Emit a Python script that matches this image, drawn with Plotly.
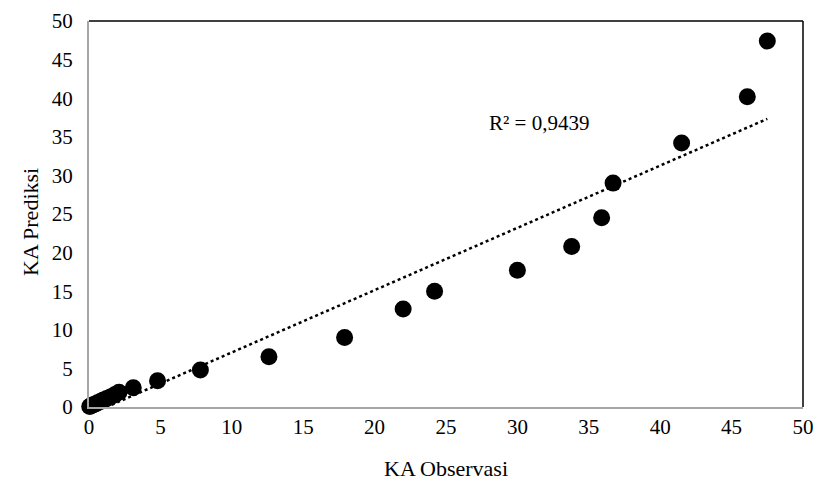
import numpy as np
import plotly.graph_objects as go

ka_observasi = [0.05, 0.15, 0.3, 0.45, 0.6, 0.8, 1.0, 1.25, 1.5, 1.8, 2.1, 3.1, 4.8, 7.8,
                12.6, 17.9, 22.0, 24.2, 30.0, 33.8, 35.9, 36.7, 41.5, 46.1, 47.5]
ka_prediksi = [0.05, 0.15, 0.3, 0.4, 0.55, 0.7, 0.9, 1.1, 1.3, 1.6, 1.9, 2.5, 3.4, 4.8,
               6.5, 9.0, 12.7, 15.0, 17.7, 20.8, 24.5, 29.0, 34.2, 40.2, 47.4]
r2_label = "R² = 0,9439"

x = np.array(ka_observasi)
y = np.array(ka_prediksi)
slope, intercept = np.polyfit(x, y, 1)
tx = np.array([x.min(), x.max()])
ty = slope * tx + intercept

font_family = "Liberation Serif, Times New Roman, serif"

fig = go.Figure()
fig.add_trace(go.Scatter(x=tx, y=ty, mode="lines",
                         line=dict(color="black", width=2.5, dash="dot"),
                         hoverinfo="skip", showlegend=False))
fig.add_trace(go.Scatter(x=x, y=y, mode="markers",
                         marker=dict(color="black", size=17),
                         showlegend=False, cliponaxis=False))

fig.add_annotation(x=31.5, y=36.8, text=r2_label, showarrow=False,
                   font=dict(family=font_family, size=21, color="black"))

# axis titles
fig.add_annotation(xref="paper", yref="paper", x=0.5, y=0, yshift=-61,
                   xanchor="center", yanchor="middle",
                   text="KA Observasi", showarrow=False,
                   font=dict(family=font_family, size=22, color="black"))
fig.add_annotation(xref="paper", yref="paper", x=0, y=0.5, xshift=-59, yshift=-8,
                   xanchor="center", yanchor="middle", textangle=-90,
                   text="KA Prediksi", showarrow=False,
                   font=dict(family=font_family, size=22, color="black"))

# top and right plot-area border
fig.add_shape(type="line", xref="paper", yref="paper", x0=0, x1=1, y0=1, y1=1,
              line=dict(color="black", width=1.5))
fig.add_shape(type="line", xref="paper", yref="paper", x0=1, x1=1, y0=0, y1=1,
              line=dict(color="black", width=1.5))

axis_common = dict(showgrid=False, zeroline=False, showline=True,
                   linecolor="#a6a6a6", linewidth=2, ticks="", automargin=False,
                   tickfont=dict(family=font_family, size=21, color="black"),
                   dtick=5)

fig.update_xaxes(range=[0, 50], ticklabelstandoff=0, **axis_common)
fig.update_yaxes(range=[0, 50], ticklabelstandoff=10, **axis_common)

fig.update_layout(width=817, height=488, plot_bgcolor="white", paper_bgcolor="white",
                  margin=dict(l=89, r=14, t=21, b=81))

fig.write_html("out.html", config={"displayModeBar": False},
               post_script="document.body.style.margin='0';document.body.style.overflow='hidden';")
